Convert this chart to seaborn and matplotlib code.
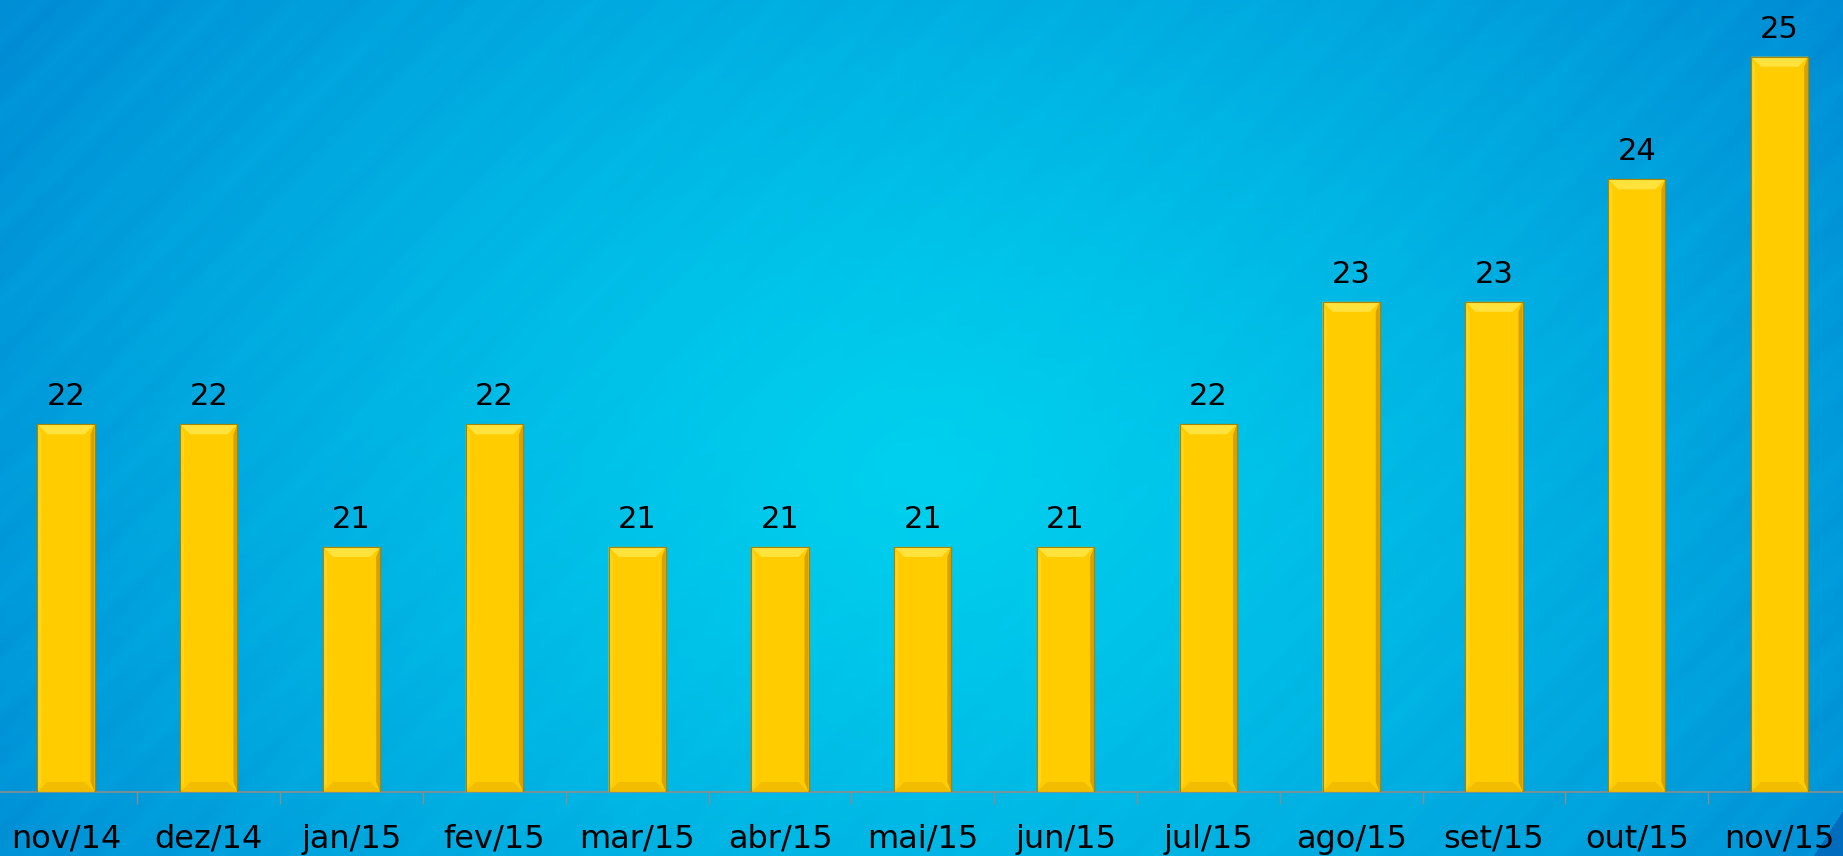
import numpy as np
import pandas as pd
import matplotlib
matplotlib.use("Agg")
import matplotlib.pyplot as plt
from matplotlib.patches import Polygon
from matplotlib.ticker import FixedLocator
import seaborn as sns

# ---- data ----
months = ["nov/14", "dez/14", "jan/15", "fev/15", "mar/15", "abr/15", "mai/15",
          "jun/15", "jul/15", "ago/15", "set/15", "out/15", "nov/15"]
values = [22, 22, 21, 22, 21, 21, 21, 21, 22, 23, 23, 24, 25]
y_min, y_max = 19, 25.463

df = pd.DataFrame({"mes": months, "valor": values})

sns.set_style("white")
plt.rcParams["font.family"] = ["DejaVu Sans"]

W, H, DPI = 1843, 856, 100
fig = plt.figure(figsize=(W / DPI, H / DPI), dpi=DPI)

# ---- background (decorative gradient with diagonal stripes) ----
bg = fig.add_axes([0, 0, 1, 1], zorder=0)
yy, xx = np.mgrid[0:H, 0:W].astype(float)
u, v = xx / W, yy / H
d = np.sqrt(((u - 0.5) / 0.62) ** 2 + ((v - 0.55) / 1.0) ** 2)
t = np.clip(d, 0, 1) ** 1.25
center = np.array([0, 208, 238]) / 255.0
edge = np.array([0, 138, 212]) / 255.0
img = center[None, None, :] + (edge - center)[None, None, :] * t[..., None]
stripe = (np.sin((xx + yy) * 2 * np.pi / 95.0) * 0.6
          + np.sin((xx + yy) * 2 * np.pi / 37.0 + 1.0) * 0.4)
amp = 0.016 * np.clip(d, 0.1, 1.0)
img = img + (stripe * amp)[..., None] * np.array([0.0, 1.0, 0.6])[None, None, :]
tri = yy > 856 - (xx - 1813) * 46.0 / 30.0
img[tri] = np.array([0, 108, 190]) / 255.0
bg.imshow(np.clip(img, 0, 1), aspect="auto", extent=[0, 1, 0, 1], interpolation="bilinear")
bg.set_axis_off()

# ---- main chart ----
left_px = 66 - 0.5 * 142.8
ax = fig.add_axes([left_px / W, (H - 792) / H, 13 * 142.8 / W, 792 / H], zorder=1)
ax.patch.set_alpha(0)

sns.barplot(data=df, x="mes", y="valor", color="#FFCC00", width=0.4,
            saturation=1, edgecolor="#A98400", linewidth=0.8, ax=ax)
ax.set_xlim(-0.5, len(months) - 0.5)
ax.set_ylim(y_min, y_max)

# bevel effect derived from each bar patch
fig.canvas.draw()
bbox = ax.get_window_extent()
xpp = (ax.get_xlim()[1] - ax.get_xlim()[0]) / bbox.width
ypp = (ax.get_ylim()[1] - ax.get_ylim()[0]) / bbox.height
side = 4 * xpp
tb = 10 * ypp
tbx = 10 * xpp
for p in ax.patches:
    x0 = p.get_x()
    x1 = x0 + p.get_width()
    top = p.get_y() + p.get_height()
    bot = y_min
    polys = [
        ([(x0, top), (x0, bot), (x0 + side, bot + tb), (x0 + side, top - tb)], "#FFD41C"),
        ([(x1, top), (x1, bot), (x1 - side, bot + tb), (x1 - side, top - tb)], "#D9A100"),
        ([(x0, bot), (x1, bot), (x1 - tbx, bot + tb), (x0 + tbx, bot + tb)], "#F2BC00"),
        ([(x0, top), (x1, top), (x1 - tbx, top - tb), (x0 + tbx, top - tb)], "#FFE33C"),
    ]
    for pts, col in polys:
        ax.add_patch(Polygon(pts, closed=True, facecolor=col, edgecolor="none", zorder=3))
    ax.add_patch(Polygon([(x0, top), (x1, top), (x1, bot), (x0, bot)], closed=True,
                         facecolor="none", edgecolor="#A98400", linewidth=0.8, zorder=4))

# value labels
for i, val in enumerate(values):
    ax.annotate(f"{val}", xy=(i, val), xytext=(0, 13.7), textcoords="offset points",
                ha="center", va="baseline", fontsize=22, color="black", zorder=5)

# axes styling
for s in ["top", "right", "left"]:
    ax.spines[s].set_visible(False)
ax.spines["bottom"].set_color("#8C8C8C")
ax.spines["bottom"].set_linewidth(1.2)
ax.set_yticks([])
ax.set_xlabel("")
ax.set_ylabel("")
ax.xaxis.set_minor_locator(FixedLocator(np.arange(-0.5, len(months), 1.0)))
ax.tick_params(axis="x", which="major", bottom=True, length=0, pad=23,
               labelsize=23, labelcolor="black")
ax.tick_params(axis="x", which="minor", bottom=True, length=8.6, width=1,
               color="#8C8C8C", direction="out")

fig.savefig("out.png", dpi=DPI)
